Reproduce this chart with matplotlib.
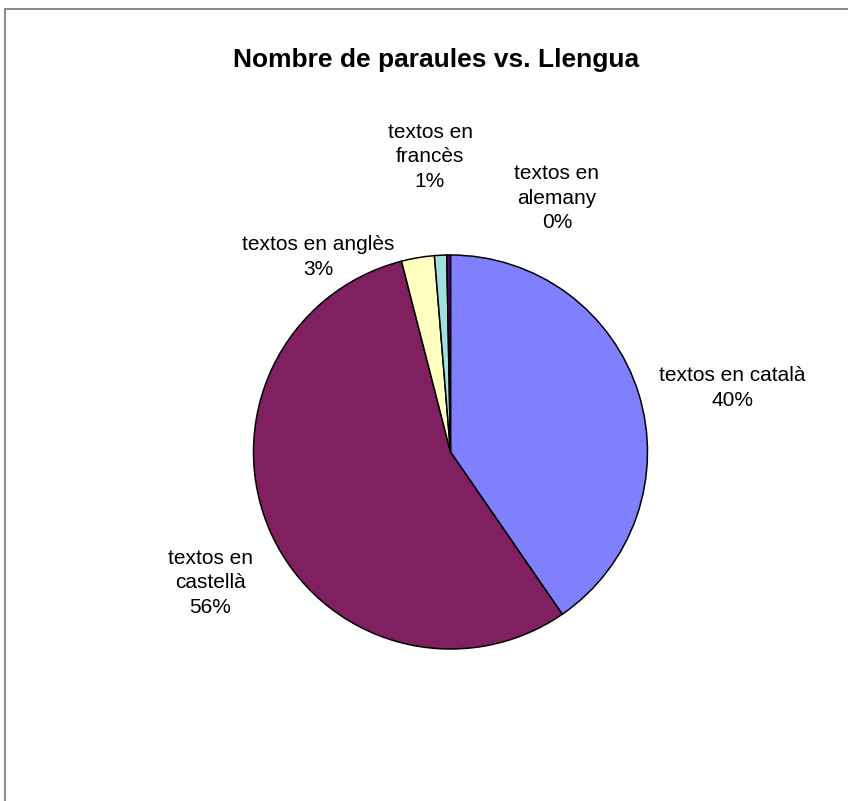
import matplotlib
matplotlib.use("Agg")
import matplotlib.pyplot as plt
from matplotlib.patches import Rectangle

plt.rcParams['font.family'] = ['Liberation Sans', 'DejaVu Sans']

# data
llengues = ['textos en català', 'textos en castellà', 'textos en anglès',
            'textos en francès', 'textos en alemany']
percent = [40.4, 55.6, 2.7, 1.0, 0.3]
colors = ['#8080FF', '#802060', '#FFFFC0', '#A0E0E0', '#600080']
# how each label is wrapped, and where its centre sits (pixels)
label_text = ['textos en català', 'textos en\ncastellà', 'textos en anglès',
              'textos en\nfrancès', 'textos en\nalemany']
label_pos = [(732, 388), (210, 583), (318, 257), (430, 157), (557, 198)]

W, H = 848, 801
fig = plt.figure(figsize=(W / 100, H / 100), dpi=100)

# outer chart frame (right and bottom edges fall outside the image)
fig.patches.append(Rectangle((5 / W, -0.05), 1.2, 1 - 9 / H + 0.05,
                             transform=fig.transFigure, fill=False,
                             edgecolor='#808080', linewidth=1.3))

cx, cy, r = 450.5, 452, 197
ax = fig.add_axes([(cx - r) / W, (H - cy - r) / H, 2 * r / W, 2 * r / H])
ax.pie(percent, colors=colors, startangle=90, counterclock=False,
       wedgeprops=dict(edgecolor='black', linewidth=1.1))
ax.set_xlim(-1, 1)
ax.set_ylim(-1, 1)
ax.set_aspect('equal')
ax.axis('off')

fig.text(436 / W, 1 - 60 / H, 'Nombre de paraules vs. Llengua',
         ha='center', va='center', fontsize=19, fontweight='bold')

total = sum(percent)
for txt, p, (x, y) in zip(label_text, percent, label_pos):
    pct = '%.0f%%' % (100 * p / total)
    fig.text(x / W, 1 - y / H, txt + '\n' + pct, ha='center', va='center',
             fontsize=15, linespacing=1.37)

fig.savefig('out.png', dpi=100)
